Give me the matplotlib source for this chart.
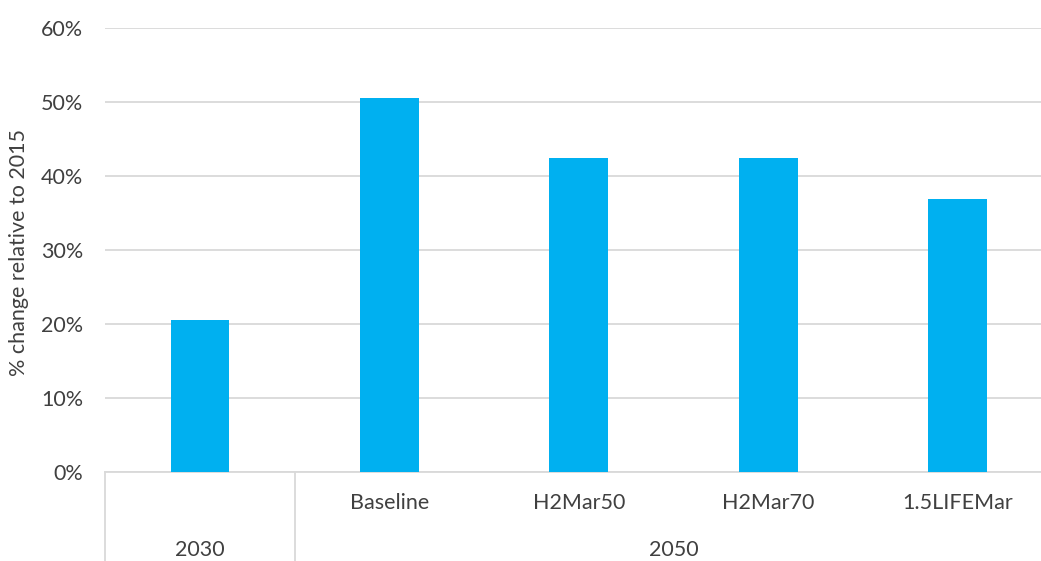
import matplotlib
matplotlib.use("Agg")
import matplotlib.pyplot as plt
import numpy as np

plt.rcParams['font.family'] = ['Lato', 'DejaVu Sans']

scenarios = ["", "Baseline", "H2Mar50", "H2Mar70", "1.5LIFEMar"]
years = ["2030", "2050"]
year_spans = [(0, 1), (1, 5)]
pct_change = [20.6, 50.6, 42.4, 42.4, 36.9]

bar_color = "#00B0F0"
grid_color = "#D9D9D9"
text_color = "#404040"
fs = 15.5

W, H = 1041, 561
fig = plt.figure(figsize=(W / 100, H / 100), dpi=100)
ax = fig.add_axes([105.3 / W, (H - 472) / H, 947 / W, (472 - 28) / H])

x = np.arange(len(scenarios))
ax.bar(x, pct_change, width=0.31, color=bar_color, zorder=3)

ax.set_xlim(-0.5, len(scenarios) - 0.5)
ax.set_ylim(0, 60)
ax.set_yticks(np.arange(0, 61, 10))
ax.set_yticklabels([f"{v}%" for v in range(0, 61, 10)], fontsize=fs, color=text_color)
ax.yaxis.grid(True, color=grid_color, linewidth=1.3, zorder=0)
ax.tick_params(axis="y", length=0, pad=16)
ax.set_xticks([])
for s in ["top", "right", "left"]:
    ax.spines[s].set_visible(False)
ax.spines["bottom"].set_color(grid_color)
ax.spines["bottom"].set_linewidth(1.3)

ax.set_ylabel("% change relative to 2015", fontsize=fs, color=text_color, va="center")
ax.yaxis.set_label_coords(-(105.3 - 19) / 947, (472 - 252) / (472 - 28))

# two-level category axis
trans = ax.get_xaxis_transform()
px = 1 / (472 - 28)
for i, name in enumerate(scenarios):
    ax.text(i, -31 * px, name, transform=trans, ha="center", va="center",
            fontsize=fs, color=text_color)
for yr, (a, b) in zip(years, year_spans):
    ax.text((a + b - 1) / 2, -78 * px, yr, transform=trans, ha="center", va="center",
            fontsize=fs, color=text_color)
for a, b in year_spans:
    ax.plot([a - 0.5, a - 0.5], [0, -89 * px], transform=trans, color=grid_color,
            linewidth=1.3, clip_on=False)

fig.savefig("out.png", dpi=100)
